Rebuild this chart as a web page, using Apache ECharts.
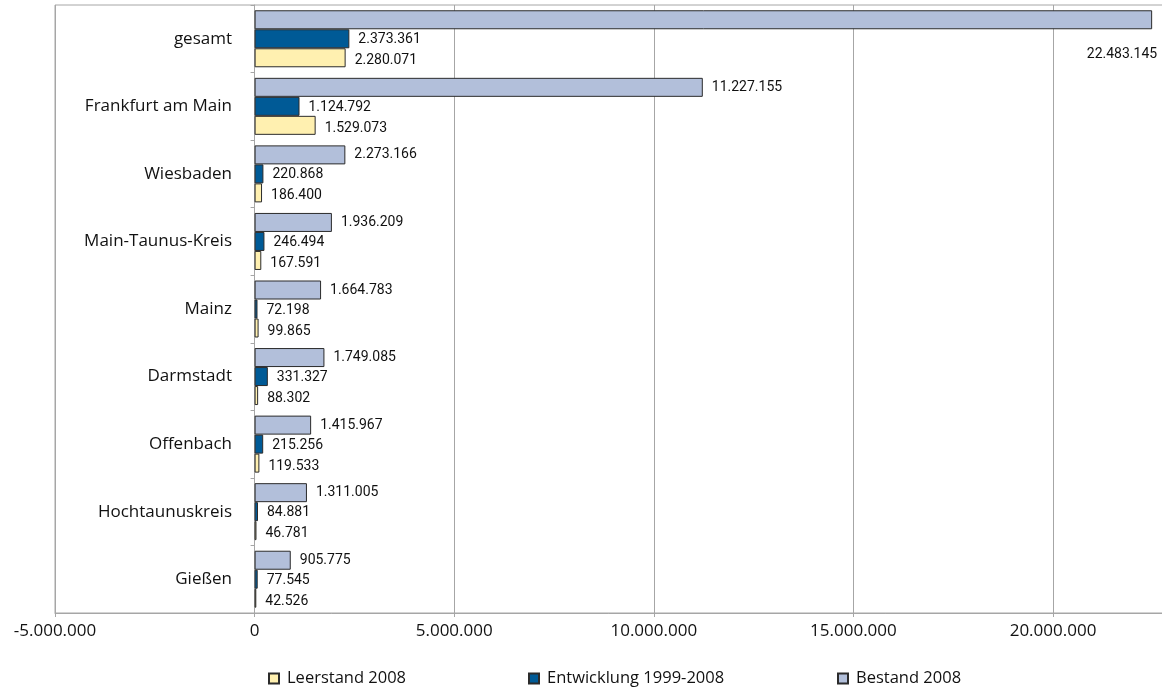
<!DOCTYPE html>
<html>
<head>
<meta charset="utf-8">
<script src="https://cdn.jsdelivr.net/npm/echarts@6/dist/echarts.min.js"></script>
<style>
  html, body { margin: 0; padding: 0; background: #fff; }
  #chart { width: 1162px; height: 690px; }
</style>
</head>
<body>
<div id="chart"></div>
<script>
// Kategorien (von oben nach unten)
const regionen = ['gesamt', 'Frankfurt am Main', 'Wiesbaden', 'Main-Taunus-Kreis', 'Mainz',
    'Darmstadt', 'Offenbach', 'Hochtaunuskreis', 'Gießen']

const leerstand2008 = [2280071, 1529073, 186400, 167591, 99865, 88302, 119533, 46781, 42526]
const entwicklung = [2373361, 1124792, 220868, 246494, 72198, 331327, 215256, 84881, 77545]
const bestand2008 = [22483145, 11227155, 2273166, 1936209, 1664783, 1749085, 1415967, 1311005, 905775]

const serienNamen = ['Leerstand 2008', 'Entwicklung 1999-2008', 'Bestand 2008']

// Achse
const xMin = -5000000
const xMax = 22780000
const xStep = 5000000

// deutsche Tausenderpunkte
function fmt(v) {
    const s = String(Math.abs(Math.round(v))).replace(/\B(?=(\d{3})+(?!\d))/g, '.')
    return (v < 0 ? '-' : '') + s
}

const txtFont = '"Open Sans", "Noto Sans", sans-serif'
const lblFont = 'Roboto, "Liberation Sans", sans-serif'

function serie(name, values, color, dy) {
    return {
        name: name,
        type: 'bar',
        barWidth: 19,
        barGap: '0%',
        data: values.map((v, i) => {
            // der größte Balken bekommt sein Label darunter
            if (name === 'Bestand 2008' && i === 0) {
                return { value: v, label: { position: 'insideRight', distance: 0, offset: [5, 35] } }
            }
            return v
        }),
        itemStyle: { color: color, borderColor: '#2b2b2b', borderWidth: 1 },
        label: {
            show: true,
            position: 'right',
            distance: 9,
            offset: [0, dy],
            color: '#111',
            fontFamily: lblFont,
            fontSize: 14,
            formatter: p => fmt(p.value)
        }
    }
}

// Legende: drei Einträge, einzeln platziert
function legende(name, left) {
    return {
        top: 665,
        left: left,
        icon: 'rect',
        itemWidth: 10,
        itemHeight: 10,
        textStyle: { fontFamily: txtFont, fontSize: 16.5, color: '#111', padding: [0, 0, 0, 3] },
        data: [name]
    }
}

const myChart = echarts.init(document.querySelector('#chart'))
const option = {
    animation: false,
    grid: {
        left: 55, right: -2, top: 5, bottom: 77,
        outerBoundsMode: 'none',
        containLabel: false,
        show: true, borderColor: '#a6a6a6', borderWidth: 1
    },
    legend: [
        legende(serienNamen[0], 263),
        legende(serienNamen[1], 523),
        legende(serienNamen[2], 832)
    ],
    xAxis: {
        type: 'value',
        min: xMin,
        max: xMax,
        interval: xStep,
        axisLine: { show: true, lineStyle: { color: '#a6a6a6' } },
        axisTick: { show: true, length: 4, lineStyle: { color: '#a6a6a6' } },
        splitLine: { show: true, lineStyle: { color: '#a6a6a6' } },
        axisLabel: {
            showMaxLabel: false,
            margin: 10,
            color: '#111',
            fontFamily: txtFont,
            fontSize: 17,
            formatter: v => fmt(v)
        }
    },
    yAxis: {
        type: 'category',
        inverse: true,
        data: regionen,
        axisLine: { show: true, lineStyle: { color: '#a6a6a6' } },
        axisTick: { show: true, length: 4, lineStyle: { color: '#a6a6a6' } },
        axisLabel: { margin: -177, color: '#111', fontFamily: txtFont, fontSize: 17 }
    },
    // Reihenfolge im Balkenblock: Bestand oben, Leerstand unten
    series: [
        serie(serienNamen[2], bestand2008, '#b2bfda', 0),
        serie(serienNamen[1], entwicklung, '#005a96', 1),
        serie(serienNamen[0], leerstand2008, '#fff0b0', 3)
    ]
}
myChart.setOption(option)
</script>
</body>
</html>
